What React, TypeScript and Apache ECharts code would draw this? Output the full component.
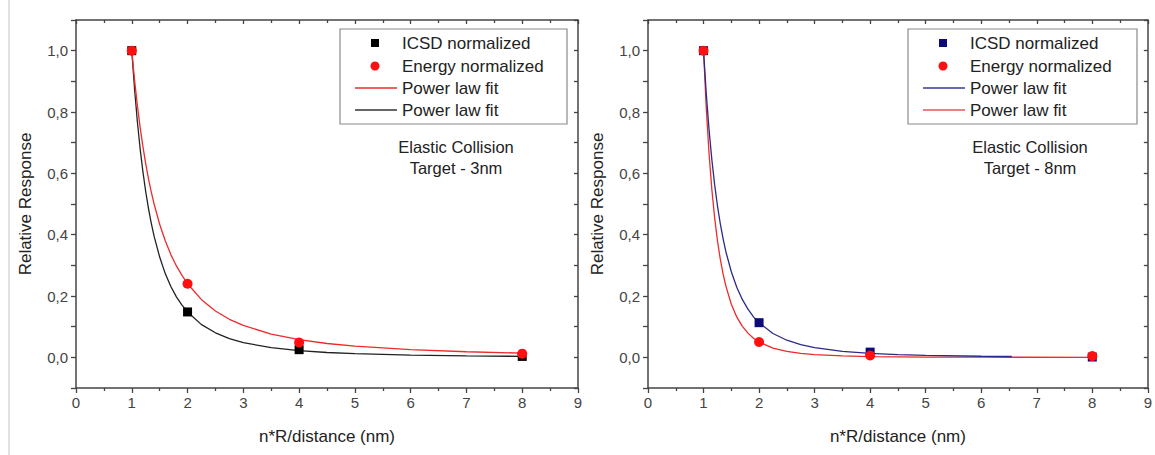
import React, { useEffect, useRef } from "react";
import * as echarts from "echarts";

// Left panel (Target - 3nm)
const leftIcsdX = [1, 2, 4, 8];
const leftIcsdY = [1.0, 0.148, 0.025, 0.003];
const leftEnergyX = [1, 2, 4, 8];
const leftEnergyY = [1.0, 0.24, 0.048, 0.012];
const leftFitX = [1, 1.05, 1.1, 1.15, 1.2, 1.25, 1.3, 1.35, 1.4, 1.5, 1.6, 1.7, 1.8, 1.9, 2, 2.25, 2.5, 2.75, 3, 3.5, 4, 4.5, 5, 6, 7, 8];
const leftFitRedY = [1.0, 0.904, 0.822, 0.75, 0.687, 0.631, 0.582, 0.539, 0.5, 0.434, 0.38, 0.335, 0.298, 0.267, 0.24, 0.188, 0.151, 0.124, 0.104, 0.0757, 0.0575, 0.0451, 0.0363, 0.0249, 0.0182, 0.0138];
const leftFitBlackY = [1.0, 0.874, 0.769, 0.68, 0.605, 0.54, 0.485, 0.437, 0.395, 0.327, 0.273, 0.231, 0.197, 0.17, 0.148, 0.1066, 0.08, 0.0613, 0.048, 0.0315, 0.0218, 0.0157, 0.0118, 0.0071, 0.0046, 0.0032];

// Right panel (Target - 8nm)
const rightIcsdX = [1, 2, 4, 8];
const rightIcsdY = [1.0, 0.113, 0.017, 0.001];
const rightEnergyX = [1, 2, 4, 8];
const rightEnergyY = [1.0, 0.05, 0.006, 0.004];
const rightFitBlueX = [1, 1.05, 1.1, 1.15, 1.2, 1.25, 1.3, 1.35, 1.4, 1.5, 1.6, 1.7, 1.8, 1.9, 2, 2.25, 2.5, 2.75, 3, 3.5, 4, 4.5, 5, 6, 6.55];
const rightFitBlueY = [1.0, 0.858, 0.741, 0.644, 0.563, 0.495, 0.438, 0.389, 0.346, 0.279, 0.228, 0.188, 0.157, 0.132, 0.113, 0.0777, 0.0558, 0.0413, 0.0314, 0.0193, 0.0127, 0.00876, 0.00629, 0.00354, 0.00268];
const rightFitRedX = [1, 1.05, 1.1, 1.15, 1.2, 1.25, 1.3, 1.35, 1.4, 1.5, 1.6, 1.7, 1.8, 1.9, 2, 2.25, 2.5, 2.75, 3, 3.5, 4, 5, 6, 8];
const rightFitRedY = [1.0, 0.81, 0.663, 0.547, 0.455, 0.381, 0.322, 0.274, 0.234, 0.173, 0.131, 0.101, 0.0789, 0.0625, 0.0501, 0.0301, 0.0191, 0.0127, 0.0087, 0.00446, 0.0025, 0.00095, 0.00043, 0.000125];

const xTicks = ["0", "1", "2", "3", "4", "5", "6", "7", "8", "9"];
const legendLabels = ["ICSD normalized", "Energy normalized", "Power law fit", "Power law fit"];
const annotationsLeft = ["Elastic Collision", "Target - 3nm"];
const annotationsRight = ["Elastic Collision", "Target - 8nm"];
const xName = "n*R/distance (nm)";
const yName = "Relative Response";

const RED = "#ff1010";
const NAVY = "#0a0a78";
const AXIS = "#444";
const FONT = "Liberation Sans, Arial, sans-serif";

const zip = (xs: number[], ys: number[]) => xs.map((x, i) => [x, ys[i]]);

function buildOption() {
  const grids = [
    { left: 76, top: 20, width: 502, height: 368 },
    { left: 648, top: 20, width: 502, height: 368 },
  ];
  const xAxes: any[] = [];
  const yAxes: any[] = [];
  [0, 1].forEach((g) => {
    xAxes.push({
      type: "value",
      gridIndex: g,
      min: 0,
      max: 9,
      interval: 1,
      position: "bottom",
      name: xName,
      nameLocation: "middle",
      nameGap: 40,
      nameTextStyle: { fontSize: 17, color: "#222", fontFamily: FONT },
      axisLine: { show: true, onZero: false, lineStyle: { color: AXIS, width: 1.5 } },
      axisTick: { show: true, length: 5, inside: false, lineStyle: { color: AXIS, width: 1.3 } },
      minorTick: { show: true, splitNumber: 2, length: 3, lineStyle: { color: AXIS, width: 1.3 } },
      axisLabel: {
        fontSize: 15,
        color: "#444",
        fontFamily: FONT,
        margin: 7,
        formatter: (v: number) => xTicks[Math.round(v)] ?? "",
      },
      splitLine: { show: false },
    });
    xAxes.push({
      type: "value",
      gridIndex: g,
      min: 0,
      max: 9,
      interval: 1,
      position: "top",
      axisLine: { show: true, onZero: false, lineStyle: { color: AXIS, width: 1.5 } },
      axisTick: { show: true, length: 4, inside: true, lineStyle: { color: AXIS, width: 1.3 } },
      minorTick: { show: true, splitNumber: 2, length: 3, lineStyle: { color: AXIS, width: 1.3 } },
      axisLabel: { show: false },
      splitLine: { show: false },
    });
    yAxes.push({
      type: "value",
      gridIndex: g,
      min: -0.1,
      max: 1.1,
      interval: 0.1,
      position: "left",
      name: yName,
      nameLocation: "middle",
      nameGap: 42,
      nameTextStyle: { fontSize: 17, color: "#222", fontFamily: FONT },
      axisLine: { show: true, onZero: false, lineStyle: { color: AXIS, width: 1.5 } },
      axisTick: { show: true, length: 5, lineStyle: { color: AXIS, width: 1.3 } },
      axisLabel: {
        fontSize: 15,
        color: "#444",
        fontFamily: FONT,
        margin: 8,
        formatter: (v: number) => {
          const k = Math.round(v * 10);
          if (k < 0 || k % 2 !== 0 || k > 10) return "";
          return (k / 10).toFixed(1).replace(".", ",");
        },
      },
      splitLine: { show: false },
    });
    yAxes.push({
      type: "value",
      gridIndex: g,
      min: -0.1,
      max: 1.1,
      interval: 0.1,
      position: "right",
      axisLine: { show: true, onZero: false, lineStyle: { color: AXIS, width: 1.5 } },
      axisTick: { show: true, length: 4, inside: true, lineStyle: { color: AXIS, width: 1.3 } },
      axisLabel: { show: false },
      splitLine: { show: false },
    });
  });

  const line = (name: string, data: number[][], color: string, g: number, w = 1.3) => ({
    type: "line",
    name,
    xAxisIndex: g * 2,
    yAxisIndex: g * 2,
    data,
    smooth: false,
    showSymbol: false,
    symbol: "none",
    lineStyle: { color, width: w },
    z: 2,
  });
  const scatter = (name: string, data: number[][], color: string, symbol: string, g: number, size: number) => ({
    type: "scatter",
    name,
    xAxisIndex: g * 2,
    yAxisIndex: g * 2,
    data,
    symbol,
    symbolSize: size,
    itemStyle: { color, opacity: 1 },
    z: 3,
  });

  const series = [
    line("Power law fit (black)", zip(leftFitX, leftFitBlackY), "#222", 0),
    line("Power law fit (red)", zip(leftFitX, leftFitRedY), "#ee2a2a", 0),
    scatter("ICSD normalized", zip(leftIcsdX, leftIcsdY), "#000", "rect", 0, 9),
    scatter("Energy normalized", zip(leftEnergyX, leftEnergyY), RED, "circle", 0, 10),
    line("Power law fit (red) R", zip(rightFitRedX, rightFitRedY), "#ee2a2a", 1),
    line("Power law fit (blue)", zip(rightFitBlueX, rightFitBlueY), "#2a2a8a", 1),
    scatter("ICSD normalized R", zip(rightIcsdX, rightIcsdY), NAVY, "rect", 1, 9),
    scatter("Energy normalized R", zip(rightEnergyX, rightEnergyY), RED, "circle", 1, 10),
  ];

  const legendBox = (x0: number, y0: number, w: number, h: number, symColors: string[], lineColors: string[]) => {
    const symX = x0 + 35;
    const lx1 = x0 + 15;
    const lx2 = x0 + 57;
    const tx = x0 + 62;
    const rows = [y0 + 14, y0 + 37, y0 + 59, y0 + 81];
    const els: any[] = [
      { type: "rect", shape: { x: x0, y: y0, width: w, height: h }, style: { fill: "#fff", stroke: "#8a8a8a", lineWidth: 1.2 }, z: 10 },
      { type: "rect", shape: { x: symX - 4, y: rows[0] - 4, width: 8, height: 8 }, style: { fill: symColors[0] }, z: 11 },
      { type: "circle", shape: { cx: symX, cy: rows[1], r: 4.5 }, style: { fill: symColors[1] }, z: 11 },
      { type: "line", shape: { x1: lx1, y1: rows[2], x2: lx2, y2: rows[2] }, style: { stroke: lineColors[0], lineWidth: 1.3 }, z: 11 },
      { type: "line", shape: { x1: lx1, y1: rows[3], x2: lx2, y2: rows[3] }, style: { stroke: lineColors[1], lineWidth: 1.3 }, z: 11 },
    ];
    legendLabels.forEach((t, i) => {
      els.push({
        type: "text",
        x: tx,
        y: rows[i],
        style: { text: t, fontSize: 17, fontFamily: FONT, fill: "#222", verticalAlign: "middle", align: "left" },
        z: 11,
      });
    });
    return els;
  };

  const annot = (cx: number, lines: string[]) =>
    lines.map((t, i) => ({
      type: "text",
      x: cx,
      y: 147 + i * 21,
      style: { text: t, fontSize: 16.5, fontFamily: FONT, fill: "#222", align: "center", verticalAlign: "middle" },
      z: 11,
    }));

  const graphic = [
    { type: "line", shape: { x1: 9, y1: 0, x2: 9, y2: 455 }, style: { stroke: "#cfcfcf", lineWidth: 1.2 } },
    ...legendBox(340, 29, 227, 95, ["#000", RED], ["#ee2a2a", "#333"]),
    ...legendBox(908, 29, 229, 95, [NAVY, RED], ["#3a3a8f", "#ee5555"]),
    ...annot(456, annotationsLeft),
    ...annot(1030, annotationsRight),
  ];

  return {
    animation: false,
    backgroundColor: "#fff",
    grid: grids,
    xAxis: xAxes,
    yAxis: yAxes,
    series,
    graphic,
  };
}

export default function App() {
  const ref = useRef<HTMLDivElement>(null);
  useEffect(() => {
    if (!ref.current) return;
    const chart = echarts.init(ref.current, undefined, { renderer: "svg" });
    chart.setOption(buildOption() as any);
    return () => chart.dispose();
  }, []);
  return (
    <div
      ref={ref}
      style={{ position: "fixed", left: 0, top: 0, width: 1155, height: 455, background: "#fff" }}
    />
  );
}
